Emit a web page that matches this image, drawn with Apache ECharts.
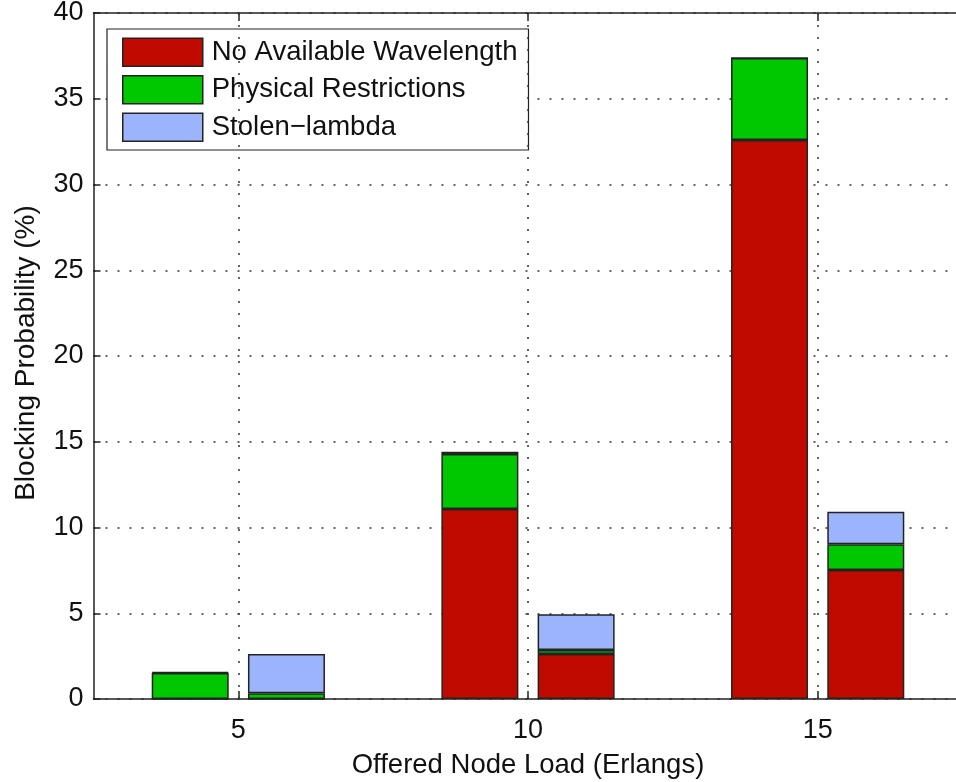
<!DOCTYPE html>
<html>
<head>
<meta charset="utf-8">
<title>Blocking Probability</title>
<script src="https://cdn.jsdelivr.net/npm/echarts@6/dist/echarts.min.js"></script>
<style>
  html, body { margin: 0; padding: 0; background: #ffffff; }
  #chart { width: 956px; height: 782px; }
</style>
</head>
<body>
<div id="chart"></div>
<script>
// Offered node load categories (Erlangs)
const loads = ['5', '10', '15'];
const yTicks = { min: 0, max: 40, interval: 5 };

// Left bar of each group: blocking probability contributions (%)
const noWavelengthLeft = [0.0, 11.08, 32.6];
const physicalLeft     = [1.52, 3.21, 4.78];
const stolenLeft       = [0.05, 0.13, 0.0];

// Right bar of each group: blocking probability contributions (%)
const noWavelengthRight = [0.0, 2.62, 7.52];
const physicalRight     = [0.33, 0.24, 1.5];
const stolenRight       = [2.29, 2.08, 1.9];

const seriesNames = ['No Available Wavelength', 'Physical Restrictions', 'Stolen\u2212lambda'];
const seriesColors = ['#c00a00', '#00c800', '#9cb4fc'];

const FONT = '"Liberation Sans", Arial, Helvetica, sans-serif';
const TEXT = '#111111';
const AXIS = '#222222';
const dotted = { color: '#333333', width: 1.5, type: [2, 10] };

function barSeries(name, color, stack, data) {
  return {
    name: name,
    type: 'bar',
    stack: stack,
    data: data,
    barWidth: 77,
    barGap: '25%',
    itemStyle: { color: color, borderColor: '#222222', borderWidth: 1.5 },
    emphasis: { disabled: true }
  };
}

const chart = echarts.init(document.getElementById('chart'), null, { renderer: 'canvas' });

chart.setOption({
  animation: false,
  backgroundColor: '#ffffff',
  textStyle: { fontFamily: FONT, color: TEXT },
  // the axes box runs slightly past the right edge of the canvas
  grid: {
    left: 93.5, top: 13, width: 869, height: 686,
    containLabel: false,
    outerBoundsMode: 'none'
  },
  legend: {
    data: seriesNames,
    orient: 'vertical',
    left: 107,
    top: 29,
    itemWidth: 80,
    itemHeight: 28,
    itemGap: 8,
    padding: [8.5, 11, 8, 15],
    backgroundColor: '#ffffff',
    borderColor: '#222222',
    borderWidth: 1.2,
    borderRadius: 0,
    icon: 'rect',
    selectedMode: false,
    itemStyle: { borderColor: '#222222', borderWidth: 1.5 },
    textStyle: { fontFamily: FONT, fontSize: 27.5, lineHeight: 28, color: TEXT, padding: [0, 0, 0, 4] }
  },
  xAxis: [
    {
      type: 'category',
      data: loads,
      position: 'bottom',
      boundaryGap: true,
      name: 'Offered Node Load (Erlangs)',
      nameLocation: 'middle',
      nameGap: 52,
      nameTextStyle: { fontFamily: FONT, fontSize: 27.5, color: TEXT },
      axisLine: { show: true, lineStyle: { color: AXIS, width: 1.5 } },
      axisTick: { show: true, inside: true, alignWithLabel: true, length: 8, lineStyle: { color: AXIS, width: 1.5 } },
      axisLabel: { fontFamily: FONT, fontSize: 27, color: TEXT, margin: 18 },
      splitLine: { show: false }
    },
    {
      type: 'category',
      data: loads,
      position: 'top',
      boundaryGap: true,
      axisLine: { show: true, lineStyle: { color: AXIS, width: 1.5 } },
      axisTick: { show: true, inside: true, alignWithLabel: true, length: 8, lineStyle: { color: AXIS, width: 1.5 } },
      axisLabel: { show: false },
      splitLine: { show: false }
    }
  ],
  yAxis: {
    type: 'value',
    min: yTicks.min,
    max: yTicks.max,
    interval: yTicks.interval,
    name: 'Blocking Probability (%)',
    nameLocation: 'middle',
    nameGap: 53,
    nameTextStyle: { fontFamily: FONT, fontSize: 28, color: TEXT, padding: [0, 0, 0, 6] },
    axisLine: { show: true, lineStyle: { color: AXIS, width: 1.5 } },
    axisTick: { show: true, inside: true, length: 7, lineStyle: { color: AXIS, width: 1.5 } },
    axisLabel: { fontFamily: FONT, fontSize: 27, color: TEXT, margin: 10 },
    splitLine: { show: true, lineStyle: dotted }
  },
  series: [
    // vertical dotted grid lines at each load value
    {
      name: 'grid',
      type: 'line',
      data: loads.map(function () { return '-'; }),
      symbol: 'none',
      silent: true,
      z: 1,
      markLine: {
        silent: true,
        symbol: 'none',
        label: { show: false },
        lineStyle: dotted,
        emphasis: { disabled: true },
        data: loads.map(function (l) { return { xAxis: l }; })
      }
    },
    barSeries(seriesNames[0], seriesColors[0], 'left', noWavelengthLeft),
    barSeries(seriesNames[1], seriesColors[1], 'left', physicalLeft),
    barSeries(seriesNames[2], seriesColors[2], 'left', stolenLeft),
    barSeries(seriesNames[0], seriesColors[0], 'right', noWavelengthRight),
    barSeries(seriesNames[1], seriesColors[1], 'right', physicalRight),
    barSeries(seriesNames[2], seriesColors[2], 'right', stolenRight)
  ]
});
</script>
</body>
</html>
